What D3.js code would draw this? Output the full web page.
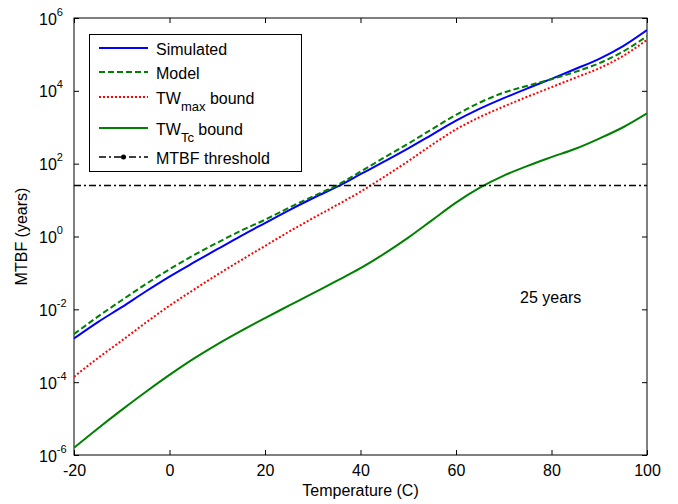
<!DOCTYPE html>
<html lang="en">
<head>
<meta charset="UTF-8">
<title>MTBF vs temperature</title>
<style>
  body { margin: 0; background: #fff; }
  text { font-family: "Liberation Sans", Arial, sans-serif; fill: #000; }
</style>
</head>
<body>
<div id="chart"></div>
<script src="https://d3js.org/d3.v7.min.js"></script>
<script>
// temperatures (C)
var temps = [-20, -15, -10, -5, 0, 5, 10, 15, 20, 25, 30, 35, 40, 45, 50, 55, 60, 65, 70, 75, 80, 85, 90, 95, 100];

// MTBF values, as log10(years)
var simulated = [-2.80, -2.35, -1.94, -1.51, -1.10, -0.72, -0.35, 0.02, 0.37, 0.72, 1.05, 1.36, 1.71, 2.06, 2.42, 2.80, 3.18, 3.51, 3.80, 4.07, 4.33, 4.60, 4.88, 5.23, 5.67];
var model     = [-2.68, -2.20, -1.75, -1.31, -0.90, -0.52, -0.17, 0.16, 0.46, 0.79, 1.10, 1.40, 1.78, 2.17, 2.55, 2.95, 3.34, 3.68, 3.95, 4.14, 4.32, 4.52, 4.76, 5.08, 5.50];
var twMax     = [-3.85, -3.34, -2.86, -2.37, -1.90, -1.47, -1.05, -0.65, -0.26, 0.13, 0.50, 0.86, 1.23, 1.64, 2.07, 2.52, 2.94, 3.28, 3.57, 3.84, 4.10, 4.36, 4.62, 4.96, 5.40];
var twTc      = [-5.80, -5.27, -4.76, -4.27, -3.80, -3.36, -2.96, -2.59, -2.24, -1.90, -1.56, -1.22, -0.87, -0.47, -0.03, 0.45, 0.93, 1.34, 1.67, 1.94, 2.18, 2.41, 2.69, 3.00, 3.38];

var threshold = 25; // years

var xTicks = [-20, 0, 20, 40, 60, 80, 100];
var yExponents = [-6, -4, -2, 0, 2, 4, 6];

var width = 678, height = 504;
var margin = {top: 18, right: 31, bottom: 49, left: 74};
var w = width - margin.left - margin.right;
var h = height - margin.top - margin.bottom;

var svg = d3.select("#chart").append("svg")
    .attr("width", width)
    .attr("height", height);

var g = svg.append("g")
    .attr("transform", "translate(" + margin.left + "," + margin.top + ")");

var x = d3.scaleLinear().domain([-20, 100]).range([0, w]);
var y = d3.scaleLog().domain([1e-6, 1e6]).range([h, 0]);

g.append("clipPath").attr("id", "plotclip")
    .append("rect").attr("width", w).attr("height", h);

// axes with inward ticks, mirrored on top and right
var tickLen = 5;
var xAxis = g.append("g")
    .attr("transform", "translate(0," + h + ")")
    .call(d3.axisBottom(x).tickValues(xTicks).tickSizeInner(-tickLen).tickSizeOuter(0)
        .tickPadding(10).tickFormat(function(d) { return String(d); }));
g.append("g")
    .call(d3.axisTop(x).tickValues(xTicks).tickSizeInner(-tickLen).tickSizeOuter(0).tickFormat(""));
var yAxis = g.append("g")
    .call(d3.axisLeft(y).tickValues(yExponents.map(function(e) { return Math.pow(10, e); }))
        .tickSizeInner(-tickLen).tickSizeOuter(0).tickFormat(""));
g.append("g")
    .attr("transform", "translate(" + w + ",0)")
    .call(d3.axisRight(y).tickValues(yExponents.map(function(e) { return Math.pow(10, e); }))
        .tickSizeInner(-tickLen).tickSizeOuter(0).tickFormat(""));

g.selectAll(".domain").remove();
g.selectAll(".tick line").attr("stroke", "#000");
xAxis.selectAll("text").style("font-size", "16px").attr("fill", "#000")
    .style("font-family", "'Liberation Sans', Arial, sans-serif");

// y tick labels as 10 with superscript exponent
var yLab = g.append("g").selectAll("text").data(yExponents).enter()
    .append("text")
    .attr("x", 39 - margin.left)
    .attr("y", function(d) { return y(Math.pow(10, d)) + 6.5; })
    .style("font-size", "16px");
yLab.append("tspan").text("10");
yLab.append("tspan")
    .attr("dy", -9)
    .style("font-size", "11px")
    .text(function(d) { return String(d); });

// frame
g.append("rect")
    .attr("width", w).attr("height", h)
    .attr("fill", "none").attr("stroke", "#000").attr("stroke-width", 1);

// curves
var line = d3.line()
    .x(function(d) { return x(d[0]); })
    .y(function(d) { return y(Math.pow(10, d[1])); })
    .curve(d3.curveMonotoneX);

var series = [
    {name: "Simulated", vals: simulated, color: "#0000ff", dash: null},
    {name: "Model", vals: model, color: "#008000", dash: "6,3"},
    {name: "TWmax", vals: twMax, color: "#ff0000", dash: "2,2"},
    {name: "TWTc", vals: twTc, color: "#008000", dash: null}
];

var curves = g.append("g").attr("clip-path", "url(#plotclip)");
series.forEach(function(s) {
    curves.append("path")
        .datum(temps.map(function(t, i) { return [t, s.vals[i]]; }))
        .attr("d", line)
        .attr("fill", "none")
        .attr("stroke", s.color)
        .attr("stroke-width", 2)
        .attr("stroke-dasharray", s.dash);
});

// 25 year threshold
curves.append("line")
    .attr("x1", x(-20)).attr("x2", x(100))
    .attr("y1", y(threshold)).attr("y2", y(threshold))
    .attr("stroke", "#000").attr("stroke-width", 1.5)
    .attr("stroke-dasharray", "7,3,2,3");

g.append("text")
    .attr("x", x(73.4))
    .attr("y", y(Math.pow(10, -1.82)))
    .style("font-size", "16px")
    .text("25 years");

// axis titles
g.append("text")
    .attr("x", w / 2)
    .attr("y", h + 41)
    .attr("text-anchor", "middle")
    .style("font-size", "16px")
    .text("Temperature (C)");

g.append("text")
    .attr("transform", "rotate(-90)")
    .attr("x", -h / 2)
    .attr("y", 27 - margin.left)
    .attr("text-anchor", "middle")
    .style("font-size", "16px")
    .text("MTBF (years)");

// legend
var leg = svg.append("g");
leg.append("rect")
    .attr("x", 89.5).attr("y", 34.5)
    .attr("width", 212).attr("height", 137)
    .attr("fill", "#fff").attr("stroke", "#000").attr("stroke-width", 1);

var rowY = [48, 72, 97, 128, 157];
var legItems = [
    {color: "#0000ff", dash: null, main: "Simulated"},
    {color: "#008000", dash: "6,3", main: "Model"},
    {color: "#ff0000", dash: "2,2", main: "TW", sub: "max", rest: " bound"},
    {color: "#008000", dash: null, main: "TW", sub: "Tc", rest: " bound"},
    {color: "#000", dash: "7,3,2,3", main: "MTBF threshold", marker: true}
];

legItems.forEach(function(it, i) {
    var ly = rowY[i];
    leg.append("line")
        .attr("x1", 99).attr("x2", 148)
        .attr("y1", ly).attr("y2", ly)
        .attr("stroke", it.color)
        .attr("stroke-width", it.marker ? 1.5 : 2)
        .attr("stroke-dasharray", it.dash);
    if (it.marker) {
        leg.append("circle").attr("cx", 123.5).attr("cy", ly).attr("r", 2.5).attr("fill", "#000");
    }
    var t = leg.append("text")
        .attr("x", 156).attr("y", ly + 6.5)
        .style("font-size", "16px");
    t.append("tspan").text(it.main);
    if (it.sub) {
        t.append("tspan").attr("dy", 7).style("font-size", "13px").text(it.sub);
        t.append("tspan").attr("dy", -7).text(it.rest);
    }
});
</script>
</body>
</html>
